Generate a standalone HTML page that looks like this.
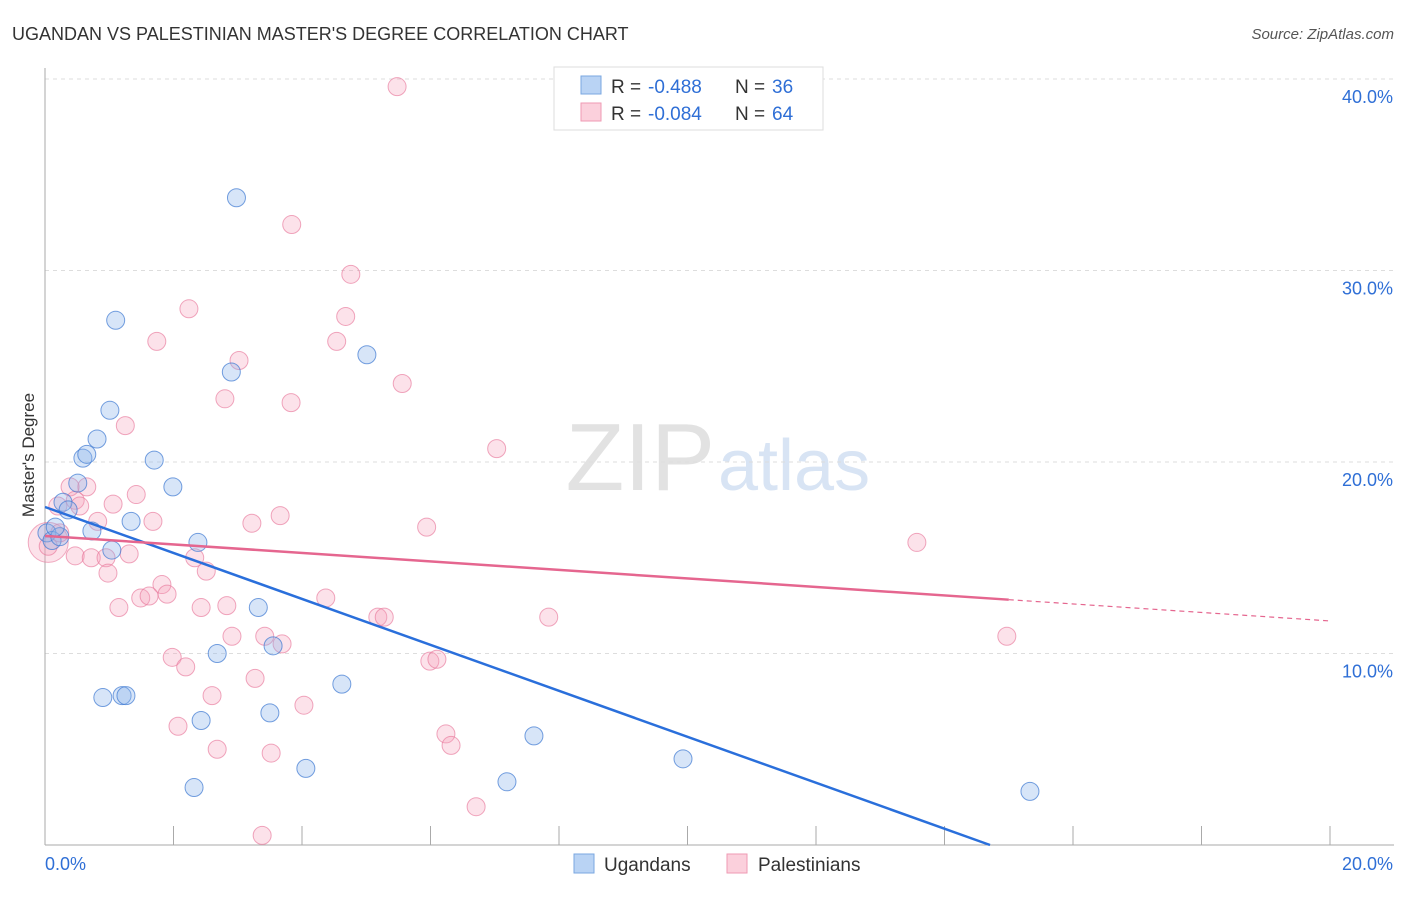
<!DOCTYPE html>
<html><head><meta charset="utf-8"><style>
body{margin:0;background:#fff;font-family:"Liberation Sans",sans-serif;}
svg text{font-family:"Liberation Sans",sans-serif;}
</style></head><body>
<svg width="1406" height="892">
<text x="12" y="40" font-size="18" fill="#333">UGANDAN VS PALESTINIAN MASTER'S DEGREE CORRELATION CHART</text>
<text x="1394" y="39" font-size="15" fill="#555" text-anchor="end" font-style="italic">Source: ZipAtlas.com</text>
<text x="715" y="490" font-size="96" fill="#e2e2e2" text-anchor="end" font-family="Liberation Serif">ZIP</text>
<text x="718" y="490" font-size="72" fill="#d8e4f4">atlas</text>
<g id="grid"></g><g id="axes"></g><g id="marks"></g>
<text transform="translate(34,455) rotate(-90)" font-size="17" fill="#333" text-anchor="middle">Master's Degree</text>
<g>
<rect x="554" y="67" width="269" height="63" fill="#fff" stroke="#ddd"/>
<rect x="581" y="76" width="20" height="18" fill="#b9d3f4" stroke="#7aa7e0"/>
<rect x="581" y="103" width="20" height="18" fill="#fbd0dc" stroke="#ef9ab3"/>
<text x="611" y="93" font-size="19" fill="#333">R =</text>
<text x="648" y="93" font-size="19" fill="#2f6fd6">-0.488</text>
<text x="735" y="93" font-size="19" fill="#333">N =</text>
<text x="772" y="93" font-size="19" fill="#2f6fd6">36</text>
<text x="611" y="120" font-size="19" fill="#333">R =</text>
<text x="648" y="120" font-size="19" fill="#2f6fd6">-0.084</text>
<text x="735" y="120" font-size="19" fill="#333">N =</text>
<text x="772" y="120" font-size="19" fill="#2f6fd6">64</text>
</g>
<g>
<rect x="574" y="854" width="20" height="19" fill="#b9d3f4" stroke="#7aa7e0"/>
<text x="604" y="871" font-size="19" fill="#333">Ugandans</text>
<rect x="727" y="854" width="20" height="19" fill="#fbd0dc" stroke="#ef9ab3"/>
<text x="758" y="871" font-size="19" fill="#333">Palestinians</text>
</g>
</svg>
<script>
const blueXv=[2.98,1.10,5.01,2.90,1.01,0.81,0.59,0.65,1.70,1.99,0.51,0.28,0.36,0.03,0.11,0.73,1.34,2.38,1.04,3.32,2.68,3.55,0.90,1.20,1.26,4.62,2.43,3.50,7.61,4.06,2.32,9.93,7.19,15.33,0.23,0.16];
const blueYv=[33.8,27.4,25.6,24.7,22.7,21.2,20.2,20.4,20.1,18.7,18.9,17.9,17.5,16.3,15.9,16.4,16.9,15.8,15.4,12.4,10.0,10.4,7.7,7.8,7.8,8.4,6.5,6.9,5.7,4.0,3.0,4.5,3.3,2.8,16.1,16.6];
const pinkXv=[5.48,3.84,4.76,2.24,1.74,4.68,4.54,3.02,5.56,2.80,3.83,1.25,7.03,0.65,0.39,0.47,0.54,0.20,1.42,1.06,1.68,0.82,3.22,3.66,5.94,13.57,0.23,0.05,0.47,0.72,0.95,1.31,0.98,2.33,2.51,1.82,1.49,1.62,1.90,1.15,2.43,2.83,4.37,5.18,5.28,7.84,2.91,3.42,3.69,1.98,2.19,5.99,6.10,14.97,2.60,3.27,4.03,2.07,2.68,3.52,6.24,6.32,6.71,3.38];
const pinkYv=[39.6,32.4,29.8,28.0,26.3,27.6,26.3,25.3,24.1,23.3,23.1,21.9,20.7,18.7,18.7,18.0,17.7,17.7,18.3,17.8,16.9,16.9,16.8,17.2,16.6,15.8,16.3,15.6,15.1,15.0,15.0,15.2,14.2,15.0,14.3,13.6,12.9,13.0,13.1,12.4,12.4,12.5,12.9,11.9,11.9,11.9,10.9,10.9,10.5,9.8,9.3,9.6,9.7,10.9,7.8,8.7,7.3,6.2,5.0,4.8,5.8,5.2,2.0,0.5];
const xTicks=["0.0%","20.0%"];
const yTicks=[10,20,30,40];
const blueFit=[17.65,-1.2], pinkFit=[16.14,-0.222];
const X=v=>45+v/20*1285, Y=v=>845-v*19.15;
const NS="http://www.w3.org/2000/svg";
function mk(p,t,a){const e=document.createElementNS(NS,t);for(const k in a)e.setAttribute(k,a[k]);p.appendChild(e);return e;}
const grid=document.getElementById('grid'),axes=document.getElementById('axes'),marks=document.getElementById('marks');
yTicks.forEach(t=>{
 const l=mk(grid,'line',{x1:45,x2:1394,y1:Y(t),y2:Y(t),stroke:'#ddd','stroke-dasharray':'4,4'});
 
 
 const tx=mk(grid,'text',{x:1393,y:Y(t)+24,'font-size':18,fill:'#2f6fd6','text-anchor':'end'});tx.textContent=t.toFixed(1)+'%';
 
 
});
mk(axes,'line',{x1:45,x2:45,y1:68,y2:845,stroke:'#aaa'});
mk(axes,'line',{x1:45,x2:1394,y1:845,y2:845,stroke:'#aaa'});
for(let i=0;i<=10;i++){const l=mk(axes,'line',{x1:X(i*2),x2:X(i*2),y1:826,y2:845,stroke:'#aaa'});
 
 }
xTicks.forEach((t,i)=>{const tx=mk(axes,'text',{x:i?1393:45,y:870,'font-size':18,fill:'#2f6fd6','text-anchor':i?'end':'start'});tx.textContent=t;
 
 });
const bigP=mk(marks,'circle',{cx:X(0.05),cy:Y(15.8),r:20,fill:'rgba(244,160,185,0.3)',stroke:'rgba(232,120,155,0.6)'});


pinkXv.forEach((v,i)=>{const c=mk(marks,'circle',{cx:X(v),cy:Y(pinkYv[i]),r:9,fill:'rgba(244,160,185,0.3)',stroke:'rgba(232,120,155,0.65)'});
 
 });
blueXv.forEach((v,i)=>{const c=mk(marks,'circle',{cx:X(v),cy:Y(blueYv[i]),r:9,fill:'rgba(140,180,235,0.35)',stroke:'rgba(60,120,210,0.7)'});
 
 });
const bx2=-blueFit[0]/blueFit[1];
const bl=mk(marks,'line',{x1:X(0),y1:Y(blueFit[0]),x2:X(bx2),y2:Y(0),stroke:'#2a6fdb','stroke-width':2.5});


const pl=mk(marks,'line',{x1:X(0),y1:Y(pinkFit[0]),x2:X(15),y2:Y(pinkFit[0]+pinkFit[1]*15),stroke:'#e5668f','stroke-width':2.5});


const pd=mk(marks,'line',{x1:X(15),y1:Y(pinkFit[0]+pinkFit[1]*15),x2:X(20),y2:Y(pinkFit[0]+pinkFit[1]*20),stroke:'#e5668f','stroke-width':1.2,'stroke-dasharray':'5,4'});


</script>
</body></html>
